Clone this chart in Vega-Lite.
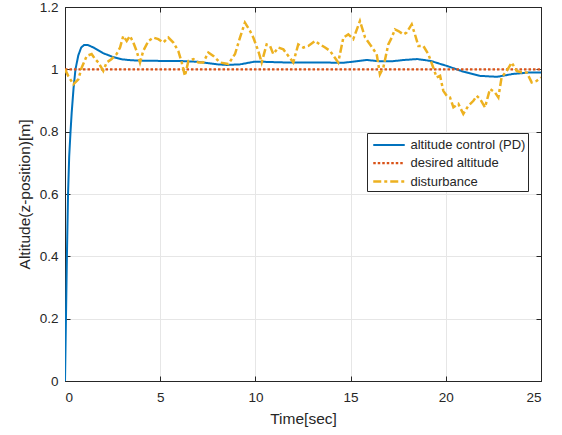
{
  "$schema": "https://vega.github.io/schema/vega-lite/v6.json",
  "width": 476,
  "height": 374,
  "autosize": {"type": "none"},
  "padding": {"left": 65, "top": 7, "right": 21, "bottom": 54},
  "background": "white",
  "config": {
    "font": "Liberation Sans",
    "view": {"stroke": "#262626", "strokeWidth": 1},
    "axis": {
      "domainColor": "#262626",
      "tickColor": "#262626",
      "labelColor": "#262626",
      "titleColor": "#262626",
      "labelFontSize": 13.5,
      "titleFontSize": 15.5,
      "titleFontWeight": "normal",
      "gridColor": "#e6e6e6",
      "gridWidth": 1
    }
  },
  "datasets": {
    "lines": [
      {"s": "altitude control (PD)", "t": 0, "v": 0},
      {"s": "altitude control (PD)", "t": 0.05, "v": 0.2},
      {"s": "altitude control (PD)", "t": 0.1, "v": 0.4},
      {"s": "altitude control (PD)", "t": 0.16, "v": 0.6},
      {"s": "altitude control (PD)", "t": 0.22, "v": 0.72},
      {"s": "altitude control (PD)", "t": 0.29, "v": 0.8},
      {"s": "altitude control (PD)", "t": 0.35, "v": 0.86},
      {"s": "altitude control (PD)", "t": 0.45, "v": 0.94},
      {"s": "altitude control (PD)", "t": 0.55, "v": 1.0},
      {"s": "altitude control (PD)", "t": 0.7, "v": 1.045},
      {"s": "altitude control (PD)", "t": 0.85, "v": 1.07},
      {"s": "altitude control (PD)", "t": 1.0, "v": 1.078},
      {"s": "altitude control (PD)", "t": 1.2, "v": 1.078},
      {"s": "altitude control (PD)", "t": 1.5, "v": 1.07},
      {"s": "altitude control (PD)", "t": 2.0, "v": 1.052},
      {"s": "altitude control (PD)", "t": 2.5, "v": 1.04},
      {"s": "altitude control (PD)", "t": 3.0, "v": 1.032},
      {"s": "altitude control (PD)", "t": 3.5, "v": 1.029},
      {"s": "altitude control (PD)", "t": 4.0, "v": 1.028},
      {"s": "altitude control (PD)", "t": 5.0, "v": 1.027},
      {"s": "altitude control (PD)", "t": 6.0, "v": 1.027},
      {"s": "altitude control (PD)", "t": 7.0, "v": 1.024},
      {"s": "altitude control (PD)", "t": 8.0, "v": 1.016},
      {"s": "altitude control (PD)", "t": 8.5, "v": 1.014},
      {"s": "altitude control (PD)", "t": 9.2, "v": 1.016},
      {"s": "altitude control (PD)", "t": 9.9, "v": 1.024},
      {"s": "altitude control (PD)", "t": 10.5, "v": 1.024},
      {"s": "altitude control (PD)", "t": 11.6, "v": 1.022},
      {"s": "altitude control (PD)", "t": 13.4, "v": 1.022},
      {"s": "altitude control (PD)", "t": 14.6, "v": 1.021},
      {"s": "altitude control (PD)", "t": 15.2, "v": 1.025},
      {"s": "altitude control (PD)", "t": 15.85, "v": 1.03},
      {"s": "altitude control (PD)", "t": 16.5, "v": 1.026},
      {"s": "altitude control (PD)", "t": 17.2, "v": 1.026},
      {"s": "altitude control (PD)", "t": 17.8, "v": 1.03},
      {"s": "altitude control (PD)", "t": 18.5, "v": 1.033},
      {"s": "altitude control (PD)", "t": 19.2, "v": 1.027},
      {"s": "altitude control (PD)", "t": 20.05, "v": 1.011},
      {"s": "altitude control (PD)", "t": 20.9, "v": 0.993},
      {"s": "altitude control (PD)", "t": 21.8, "v": 0.979},
      {"s": "altitude control (PD)", "t": 22.7, "v": 0.976},
      {"s": "altitude control (PD)", "t": 23.5, "v": 0.985},
      {"s": "altitude control (PD)", "t": 24.4, "v": 0.99},
      {"s": "altitude control (PD)", "t": 25, "v": 0.99},
      {"s": "desired altitude", "t": 0, "v": 1},
      {"s": "desired altitude", "t": 25, "v": 1},
      {"s": "disturbance", "t": 0, "v": 1.0},
      {"s": "disturbance", "t": 0.17, "v": 0.979},
      {"s": "disturbance", "t": 0.44, "v": 0.952},
      {"s": "disturbance", "t": 0.7, "v": 0.968},
      {"s": "disturbance", "t": 0.88, "v": 1.006},
      {"s": "disturbance", "t": 1.14, "v": 1.043},
      {"s": "disturbance", "t": 1.4, "v": 1.049},
      {"s": "disturbance", "t": 1.58, "v": 1.033},
      {"s": "disturbance", "t": 1.75, "v": 1.022},
      {"s": "disturbance", "t": 2.01, "v": 0.995},
      {"s": "disturbance", "t": 2.19, "v": 1.022},
      {"s": "disturbance", "t": 2.45, "v": 1.033},
      {"s": "disturbance", "t": 2.71, "v": 1.049},
      {"s": "disturbance", "t": 2.89, "v": 1.07},
      {"s": "disturbance", "t": 3.06, "v": 1.107},
      {"s": "disturbance", "t": 3.24, "v": 1.091},
      {"s": "disturbance", "t": 3.41, "v": 1.107},
      {"s": "disturbance", "t": 3.59, "v": 1.086},
      {"s": "disturbance", "t": 3.76, "v": 1.059},
      {"s": "disturbance", "t": 3.94, "v": 1.022},
      {"s": "disturbance", "t": 4.11, "v": 1.059},
      {"s": "disturbance", "t": 4.38, "v": 1.091},
      {"s": "disturbance", "t": 4.64, "v": 1.102},
      {"s": "disturbance", "t": 4.9, "v": 1.097},
      {"s": "disturbance", "t": 5.16, "v": 1.086},
      {"s": "disturbance", "t": 5.43, "v": 1.102},
      {"s": "disturbance", "t": 5.69, "v": 1.086},
      {"s": "disturbance", "t": 5.95, "v": 1.059},
      {"s": "disturbance", "t": 6.13, "v": 1.022},
      {"s": "disturbance", "t": 6.3, "v": 0.979},
      {"s": "disturbance", "t": 6.48, "v": 1.027},
      {"s": "disturbance", "t": 6.74, "v": 1.033},
      {"s": "disturbance", "t": 7.0, "v": 1.022},
      {"s": "disturbance", "t": 7.26, "v": 1.022},
      {"s": "disturbance", "t": 7.53, "v": 1.054},
      {"s": "disturbance", "t": 7.79, "v": 1.043},
      {"s": "disturbance", "t": 8.14, "v": 1.022},
      {"s": "disturbance", "t": 8.58, "v": 1.017},
      {"s": "disturbance", "t": 8.93, "v": 1.049},
      {"s": "disturbance", "t": 9.19, "v": 1.102},
      {"s": "disturbance", "t": 9.45, "v": 1.15},
      {"s": "disturbance", "t": 9.72, "v": 1.123},
      {"s": "disturbance", "t": 9.89, "v": 1.102},
      {"s": "disturbance", "t": 10.15, "v": 1.059},
      {"s": "disturbance", "t": 10.33, "v": 1.022},
      {"s": "disturbance", "t": 10.59, "v": 1.08},
      {"s": "disturbance", "t": 10.77, "v": 1.075},
      {"s": "disturbance", "t": 10.94, "v": 1.049},
      {"s": "disturbance", "t": 11.2, "v": 1.07},
      {"s": "disturbance", "t": 11.47, "v": 1.064},
      {"s": "disturbance", "t": 11.73, "v": 1.043},
      {"s": "disturbance", "t": 11.99, "v": 1.022},
      {"s": "disturbance", "t": 12.25, "v": 1.08},
      {"s": "disturbance", "t": 12.52, "v": 1.07},
      {"s": "disturbance", "t": 12.78, "v": 1.075},
      {"s": "disturbance", "t": 13.13, "v": 1.091},
      {"s": "disturbance", "t": 13.39, "v": 1.08},
      {"s": "disturbance", "t": 13.66, "v": 1.07},
      {"s": "disturbance", "t": 13.92, "v": 1.059},
      {"s": "disturbance", "t": 14.35, "v": 1.022},
      {"s": "disturbance", "t": 14.62, "v": 1.102},
      {"s": "disturbance", "t": 14.88, "v": 1.112},
      {"s": "disturbance", "t": 15.14, "v": 1.097},
      {"s": "disturbance", "t": 15.49, "v": 1.155},
      {"s": "disturbance", "t": 15.76, "v": 1.102},
      {"s": "disturbance", "t": 16.02, "v": 1.08},
      {"s": "disturbance", "t": 16.37, "v": 1.049},
      {"s": "disturbance", "t": 16.54, "v": 0.984},
      {"s": "disturbance", "t": 16.72, "v": 1.006},
      {"s": "disturbance", "t": 16.98, "v": 1.08},
      {"s": "disturbance", "t": 17.16, "v": 1.102},
      {"s": "disturbance", "t": 17.33, "v": 1.128},
      {"s": "disturbance", "t": 17.51, "v": 1.123},
      {"s": "disturbance", "t": 17.77, "v": 1.112},
      {"s": "disturbance", "t": 17.94, "v": 1.118},
      {"s": "disturbance", "t": 18.21, "v": 1.144},
      {"s": "disturbance", "t": 18.38, "v": 1.112},
      {"s": "disturbance", "t": 18.56, "v": 1.075},
      {"s": "disturbance", "t": 18.82, "v": 1.075},
      {"s": "disturbance", "t": 19.08, "v": 1.049},
      {"s": "disturbance", "t": 19.34, "v": 1.006},
      {"s": "disturbance", "t": 19.52, "v": 0.974},
      {"s": "disturbance", "t": 19.7, "v": 0.979},
      {"s": "disturbance", "t": 19.87, "v": 0.931},
      {"s": "disturbance", "t": 20.05, "v": 0.915},
      {"s": "disturbance", "t": 20.22, "v": 0.91},
      {"s": "disturbance", "t": 20.4, "v": 0.878},
      {"s": "disturbance", "t": 20.66, "v": 0.889},
      {"s": "disturbance", "t": 20.92, "v": 0.857},
      {"s": "disturbance", "t": 21.18, "v": 0.883},
      {"s": "disturbance", "t": 21.45, "v": 0.899},
      {"s": "disturbance", "t": 21.62, "v": 0.915},
      {"s": "disturbance", "t": 21.8, "v": 0.905},
      {"s": "disturbance", "t": 22.06, "v": 0.878},
      {"s": "disturbance", "t": 22.32, "v": 0.937},
      {"s": "disturbance", "t": 22.58, "v": 0.926},
      {"s": "disturbance", "t": 22.76, "v": 0.91},
      {"s": "disturbance", "t": 22.93, "v": 0.974},
      {"s": "disturbance", "t": 23.2, "v": 0.995},
      {"s": "disturbance", "t": 23.46, "v": 1.022},
      {"s": "disturbance", "t": 23.72, "v": 0.995},
      {"s": "disturbance", "t": 23.99, "v": 0.99},
      {"s": "disturbance", "t": 24.25, "v": 0.99},
      {"s": "disturbance", "t": 24.51, "v": 0.958},
      {"s": "disturbance", "t": 24.77, "v": 0.963},
      {"s": "disturbance", "t": 25, "v": 0.974}
    ]
  },
  "data": {"name": "lines"},
  "layer": [
    {
      "mark": {"type": "line", "strokeCap": "butt", "clip": true},
      "encoding": {
        "x": {
          "field": "t", "type": "quantitative",
          "scale": {"domain": [0, 25], "nice": false, "zero": false},
          "axis": {"orient": "bottom", "title": "Time[sec]", "values": [0, 5, 10, 15, 20, 25], "tickSize": -5, "labelPadding": 14, "titlePadding": 8, "grid": true}
        },
        "y": {
          "field": "v", "type": "quantitative",
          "scale": {"domain": [0, 1.2], "nice": false},
          "axis": {"orient": "left", "title": "Altitude(z-position)[m]", "values": [0, 0.2, 0.4, 0.6, 0.8, 1, 1.2], "format": "~g", "tickSize": -5, "labelPadding": 12, "titlePadding": 7, "grid": true}
        },
        "color": {
          "field": "s", "type": "nominal",
          "scale": {"domain": ["altitude control (PD)", "desired altitude", "disturbance"], "range": ["#0072BD", "#D95319", "#EDB120"]},
          "legend": {
            "orient": "none", "legendX": 302, "legendY": 126, "title": null,
            "fillColor": "white", "strokeColor": "#262626", "padding": 2,
            "symbolType": "M-1.75,0H1.75", "symbolSize": 324, "symbolOffset": 9.5,
            "labelFontSize": 13, "labelColor": "#262626", "rowPadding": 0.5, "labelOffset": 11,
            "labelExpr": "datum.label + '    '"
          }
        },
        "strokeDash": {
          "field": "s", "type": "nominal",
          "scale": {"domain": ["altitude control (PD)", "desired altitude", "disturbance"], "range": [[1, 0], [2.5, 2], [8, 3, 3, 3]]},
          "legend": null
        },
        "strokeWidth": {
          "field": "s", "type": "nominal",
          "scale": {"domain": ["altitude control (PD)", "desired altitude", "disturbance"], "range": [2, 2.5, 3]},
          "legend": null
        },
        "order": {"field": "t", "type": "quantitative"}
      }
    },
    {
      "mark": {"type": "line", "opacity": 0},
      "encoding": {
        "x": {"field": "t", "type": "quantitative", "scale": {"domain": [0, 25], "nice": false, "zero": false},
          "axis": {"orient": "top", "title": null, "labels": false, "values": [0, 5, 10, 15, 20, 25], "tickSize": -5, "grid": false}},
        "y": {"field": "v", "type": "quantitative", "scale": {"domain": [0, 1.2], "nice": false},
          "axis": {"orient": "right", "title": null, "labels": false, "values": [0, 0.2, 0.4, 0.6, 0.8, 1, 1.2], "tickSize": -5, "grid": false}}
      }
    }
  ],
  "resolve": {"axis": {"x": "independent", "y": "independent"}}
}
